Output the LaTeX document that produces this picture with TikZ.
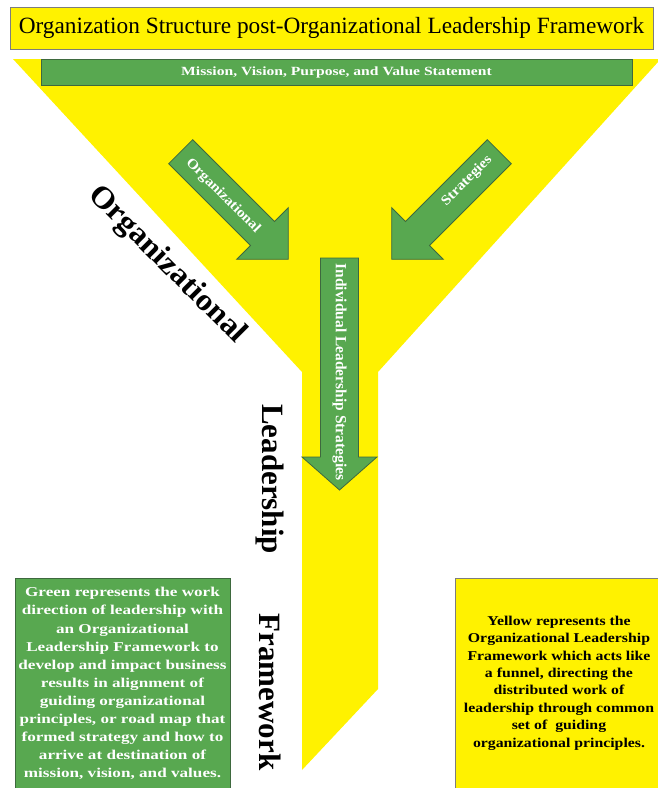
\documentclass[tikz,border=0pt]{standalone}
\usepackage{fontspec}
\usepackage{graphicx}
\setmainfont{Liberation Serif}
\definecolor{fy}{RGB}{255,242,0}
\definecolor{fg}{RGB}{88,168,80}
\definecolor{fgd}{RGB}{62,105,62}
\definecolor{gb}{RGB}{125,125,125}
\tikzset{
  greenshape/.style={fill=fg,draw=fgd,line width=0.8pt},
  wlab/.style={text=white,font=\bfseries,inner sep=0pt},
  biglab/.style={text=black,font=\fontsize{31}{31}\selectfont\bfseries,inner sep=0pt},
  notebox/.style={inner sep=0pt,align=center}
}
\begin{document}
\begin{tikzpicture}[x=1pt,y=-1pt]
\useasboundingbox (0,0) rectangle (658,788);
\clip (0,0) rectangle (658,788);
% funnel
\fill[fy] (13,59) -- (658,59) -- (658,62) -- (378,372) -- (378,689) -- (302,770) -- (302,372) -- cycle;
% title
\node[draw=gb,fill=fy,line width=0.8pt,minimum width=643pt,minimum height=42pt,inner sep=0pt] (title) at (331.5,28)
  {\fontsize{23.3}{26}\selectfont Organization Structure post-Organizational Leadership Framework};
% mission bar
\node[greenshape,minimum width=591pt,minimum height=26pt,inner sep=0pt] (mission) at (336.5,72) {};
\node[wlab] (missiontext) at (mission.center) {\scalebox{1.25}[1]{\fontsize{12.5}{14}\selectfont Mission, Vision, Purpose, and Value Statement}};
% organizational arrow
\begin{scope}[shift={(180.7,151.7)},rotate=-45]
  \draw[greenshape] (0,-17) -- (115.7,-17) -- (115.7,-36.5) -- (152.2,0) -- (115.7,36.5) -- (115.7,17) -- (0,17) -- cycle;
\end{scope}
\node[wlab,rotate=-45] (orgarrow) at (223,196) {\scalebox{1.1}[1]{\fontsize{14}{16}\selectfont Organizational}};
% strategies arrow
\begin{scope}[shift={(499.3,151.7)},rotate=-135]
  \draw[greenshape] (0,-17) -- (115.7,-17) -- (115.7,-36.5) -- (152.2,0) -- (115.7,36.5) -- (115.7,17) -- (0,17) -- cycle;
\end{scope}
\node[wlab,rotate=45] (strarrow) at (467,181) {\scalebox{1.1}[1]{\fontsize{14}{16}\selectfont Strategies}};
% individual arrow
\draw[greenshape] (320.5,258) -- (358.5,258) -- (358.5,457) -- (377,457) -- (339.5,490) -- (302,457) -- (320.5,457) -- cycle;
\node[wlab,rotate=-90] (indarrow) at (339.5,372) {\fontsize{15.5}{17}\selectfont Individual Leadership Strategies};
% big labels
\node[biglab,rotate=-45] (bigorg) at (167,265) {\scalebox{1.05}[1]{Organizational}};
\node[biglab,rotate=-90] (biglead) at (270,479) {Leadership};
\node[biglab,rotate=-90] (bigframe) at (270,692) {Framework};
% green note
\fill[fg] (15,578) rectangle (230,800);
\draw[fgd,line width=0.8pt] (15,800) -- (15,578) -- (230,578) -- (230,800);
\node[notebox,text=white,anchor=north] (greennote) at (122.5,584) {\scalebox{1.27}[1]{\fontsize{13.5}{18.1}\selectfont\bfseries
\begin{tabular}{@{}c@{}}
Green represents the work\\
direction of leadership with\\
an Organizational\\
Leadership Framework to\\
develop and impact business\\
results in alignment of\\
guiding organizational\\
principles, or road map that\\
formed strategy and how to\\
arrive at destination of\\
mission, vision, and values.
\end{tabular}}};
% yellow note
\fill[fy] (455,578) rectangle (670,800);
\draw[gb,line width=0.8pt] (455,800) -- (455,578) -- (670,578);
\node[notebox,text=black,anchor=north] (yellownote) at (559,613) {\scalebox{1.17}[1]{\fontsize{13.5}{17.4}\selectfont\bfseries
\begin{tabular}{@{}c@{}}
Yellow represents the\\
Organizational Leadership\\
Framework which acts like\\
a funnel, directing the\\
distributed work of\\
leadership through common\\
set of\ \ guiding\\
organizational principles.
\end{tabular}}};
\end{tikzpicture}
\end{document}
